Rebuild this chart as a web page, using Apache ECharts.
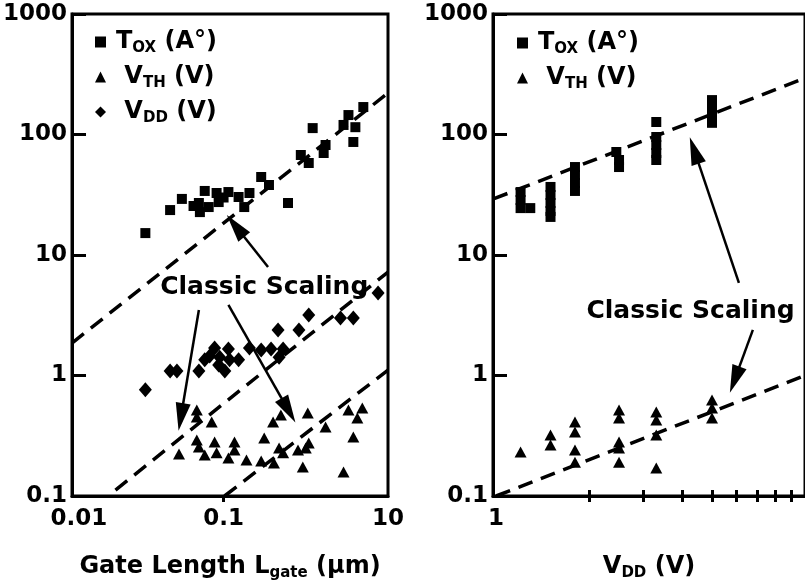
<!DOCTYPE html>
<html>
<head>
<meta charset="utf-8">
<script src="https://cdn.jsdelivr.net/npm/echarts@6/dist/echarts.min.js"></script>
<style>
html, body { margin: 0; padding: 0; background: #fff; }
#chart { width: 805px; height: 587px; }
</style>
</head>
<body>
<div id="chart"></div>
<script>
// left panel: [gate length (um), value]
let toxVsGate = [
    [0.0288, 15.2], [0.0427, 23.6], [0.0515, 29.2], [0.0741, 34.0], [0.0675, 27.0],
    [0.0686, 22.7], [0.0789, 25.0], [0.0895, 32.7], [0.0925, 27.5], [0.108, 33.3],
    [0.127, 30.3], [0.139, 25.0], [0.151, 32.7], [0.182, 44.4], [0.206, 38.1],
    [0.279, 27.0], [0.342, 67.6], [0.388, 58.0], [0.413, 113], [0.492, 70.2],
    [0.507, 81.8], [0.675, 120], [0.730, 145], [0.815, 115], [0.789, 86.7],
    [0.925, 169], [0.062, 25.5], [0.100, 30.0]
];
let vthVsGate = [
    [0.0653, 0.518], [0.0653, 0.453], [0.0828, 0.411], [0.0492, 0.223], [0.0653, 0.292],
    [0.0675, 0.255], [0.0741, 0.219], [0.0867, 0.281], [0.0895, 0.228], [0.108, 0.207],
    [0.119, 0.281], [0.119, 0.241], [0.144, 0.199], [0.182, 0.195], [0.191, 0.303],
    [0.223, 0.188], [0.220, 0.411], [0.249, 0.470], [0.242, 0.250], [0.258, 0.228],
    [0.327, 0.241], [0.353, 0.174], [0.382, 0.489], [0.388, 0.275], [0.370, 0.250],
    [0.507, 0.374], [0.675, 0.158], [0.730, 0.518], [0.789, 0.309], [0.841, 0.444],
    [0.910, 0.537]
];
let vddVsGate = [
    [0.0288, 0.76], [0.0427, 1.09], [0.0476, 1.09], [0.0675, 1.09], [0.0741, 1.35],
    [0.0802, 1.45], [0.0867, 1.69], [0.0925, 1.22], [0.094, 1.42], [0.102, 1.09],
    [0.108, 1.66], [0.110, 1.35], [0.127, 1.35], [0.151, 1.69], [0.182, 1.63],
    [0.213, 1.66], [0.242, 1.42], [0.258, 1.66], [0.238, 2.39], [0.332, 2.39],
    [0.388, 3.18], [0.643, 3.0], [0.789, 3.0], [1.17, 4.84]
];

// right panel: [VDD (V), value]
let toxVsVdd = [
    [1.2, 33.3], [1.2, 28.6], [1.2, 24.5], [1.29, 24.5],
    [1.5, 36.7], [1.5, 31.5], [1.5, 27.0], [1.5, 23.2], [1.5, 20.7],
    [1.8, 53.7], [1.8, 46.1], [1.8, 39.6], [1.8, 34.0],
    [2.45, 71.6], [2.5, 61.4], [2.5, 53.7],
    [3.3, 127], [3.3, 95.3], [3.3, 81.8], [3.3, 70.2], [3.3, 61.4],
    [5.0, 193], [5.0, 166], [5.0, 142], [5.0, 125]
];
let vthVsVdd = [
    [1.2, 0.232],
    [1.5, 0.321], [1.5, 0.265],
    [1.8, 0.411], [1.8, 0.340], [1.8, 0.241], [1.8, 0.191],
    [2.5, 0.518], [2.5, 0.444], [2.5, 0.281], [2.5, 0.250], [2.5, 0.191],
    [3.3, 0.498], [3.3, 0.427], [3.3, 0.321], [3.3, 0.171],
    [5.0, 0.626], [5.0, 0.537], [5.0, 0.444]
];

// classic scaling lines, two end points each
let toxFitGate = [[0.00896, 1.86], [1.37, 221]];
let vddFitGate = [[0.0179, 0.112], [1.37, 7.22]];
let vthFitGate = [[0.1016, 0.1], [1.37, 1.11]];
let toxFitVdd = [[0.98, 29.2], [10, 294]];
let vthFitVdd = [[1.0, 0.1], [10, 1.0]];

// arrows: [from, arrowhead centre]
let arrowsGate = [
    [[0.203, 7.95], [0.121, 17.4]],
    [[0.0675, 3.50], [0.0507, 0.453]],
    [[0.108, 3.85], [0.281, 0.513]]
];
let arrowsVdd = [
    [[6.11, 5.86], [4.38, 73.8]],
    [[6.78, 2.39], [5.92, 0.923]]
];
let noteGate = [0.191, 5.42];
let noteVdd = [4.26, 3.37];

// axes
let yTickLabels = ['0.1', '1', '10', '100', '1000'];
let gateMin = 0.00896;
let gateMax = 1.37;
let gateTickValues = [0.01, 0.1, gateMax];   // the figure prints "10" at the right edge
let gateTickLabels = ['0.01', '0.1', '10'];
let vddMin = 0.977;
let vddMax = 10;
let vddMinorTicks = [2, 3, 4, 5, 6, 7, 8, 9];
let vddTickValues = [1];
let vddTickLabels = ['1'];

const FONT = 'DejaVu Sans';
const ARROW_HEAD = 'path://M7,0L14,26L0,26Z';
const lg = p => [Math.log10(p[0]), Math.log10(p[1])];

let rich = {
    b: { fontFamily: FONT, fontWeight: 'bold', fontSize: 24, lineHeight: 28, color: '#000' },
    s: { fontFamily: FONT, fontWeight: 'bold', fontSize: 15, lineHeight: 14, verticalAlign: 'bottom', color: '#000' },
    p: { fontFamily: FONT, fontWeight: 'bold', fontSize: 24, lineHeight: 28, color: '#000', padding: [0, 0, 0, 5] }
};
let legendNames = {
    Tox: '{p|T}{s|OX}{b| (A°)}',
    Vth: '{p| V}{s|TH}{b| (V)}',
    Vdd: '{p| V}{s|DD}{b| (V)}'
};

function labelFor(values, labels) {
    return v => {
        let i = values.findIndex(t => Math.abs(Math.log10(t) - v) < 1e-6);
        return i < 0 ? '' : labels[i];
    };
}

let tickFont = { color: '#000', fontFamily: FONT, fontWeight: 'bold', fontSize: 23 };
let black3 = { color: '#000', width: 3 };

function yAxisFor(gridIndex) {
    return {
        type: 'value', gridIndex: gridIndex, min: -1, max: 3, interval: 1,
        axisLine: { show: true, onZero: false, lineStyle: black3 },
        axisTick: { inside: true, length: 14, lineStyle: black3 },
        axisLabel: Object.assign({ margin: 5, formatter: v => yTickLabels[Math.round(v) + 1] }, tickFont),
        splitLine: { show: false }
    };
}

function scatter(name, data, xi, yi, symbol, size) {
    return {
        type: 'scatter', name: name, xAxisIndex: xi, yAxisIndex: yi,
        symbol: symbol, symbolSize: size, z: 5, silent: true,
        itemStyle: { color: '#000', opacity: 1 },
        data: data.map(lg)
    };
}

function fitLine(name, data, xi, yi, arrows, note) {
    let s = {
        type: 'line', name: name, xAxisIndex: xi, yAxisIndex: yi,
        symbol: 'none', silent: true, z: 3,
        lineStyle: { color: '#000', width: 3.5, type: [15, 9] },
        data: data.map(lg)
    };
    if (arrows) {
        s.markLine = {
            silent: true, animation: false,
            symbol: ['none', ARROW_HEAD],
            symbolSize: 28,
            symbolKeepAspect: true,
            label: { show: false },
            lineStyle: { color: '#000', width: 2.5, type: 'solid' },
            itemStyle: { color: '#000' },
            data: arrows.map(a => [{ coord: lg(a[0]) }, { coord: lg(a[1]) }])
        };
    }
    if (note) {
        s.markPoint = {
            silent: true, animation: false,
            symbol: 'rect', symbolSize: 1,
            itemStyle: { color: 'transparent' },
            label: { show: true, position: 'inside', formatter: 'Classic Scaling',
                color: '#000', fontFamily: FONT, fontWeight: 'bold', fontSize: 25 },
            data: [{ coord: lg(note) }]
        };
    }
    return s;
}

let chart = echarts.init(document.getElementById('chart'));

let option = {
    animation: false,
    backgroundColor: '#fff',
    grid: [
        { left: 69, top: 14, right: 417, bottom: 91, show: true, borderColor: '#000', borderWidth: 3 },
        { left: 493, top: 14, right: -2, bottom: 91, show: true, borderColor: '#000', borderWidth: 3 }
    ],
    legend: [
        {
            data: ['Tox', 'Vth', 'Vdd'], orient: 'vertical', left: 95, top: 30, padding: 0,
            itemWidth: 11, itemHeight: 11, itemGap: 9, selectedMode: false,
            formatter: n => legendNames[n], textStyle: { rich: rich }
        },
        {
            data: ['Tox', 'Vth'], orient: 'vertical', left: 517, top: 31, padding: 0,
            itemWidth: 11, itemHeight: 11, itemGap: 9, selectedMode: false,
            formatter: n => legendNames[n], textStyle: { rich: rich }
        }
    ],
    xAxis: [
        {
            type: 'value', gridIndex: 0, min: Math.log10(gateMin), max: Math.log10(gateMax),
            axisLine: { show: true, onZero: false, lineStyle: black3 },
            axisTick: { customValues: [Math.log10(0.1)], length: 6, lineStyle: black3 },
            axisLabel: Object.assign({ margin: 12, customValues: gateTickValues.map(Math.log10),
                formatter: labelFor(gateTickValues, gateTickLabels) }, tickFont),
            splitLine: { show: false },
            name: '{b|Gate Length L}{s|gate}{b| (µm)}', nameLocation: 'middle', nameGap: 57,
            nameTextStyle: { rich: rich }
        },
        {
            type: 'value', gridIndex: 1, position: 'bottom', min: Math.log10(vddMin), max: Math.log10(vddMax),
            axisLine: { show: true, onZero: false, lineStyle: black3 },
            axisTick: { customValues: vddMinorTicks.map(Math.log10), length: 6, lineStyle: black3 },
            axisLabel: Object.assign({ margin: 12, customValues: vddTickValues.map(Math.log10),
                formatter: labelFor(vddTickValues, vddTickLabels) }, tickFont),
            splitLine: { show: false },
            name: '{b|V}{s|DD}{b| (V)}', nameLocation: 'middle', nameGap: 57,
            nameTextStyle: { rich: rich }
        },
        {
            type: 'value', gridIndex: 1, position: 'bottom', min: Math.log10(vddMin), max: Math.log10(vddMax),
            axisLine: { show: false, onZero: false },
            axisTick: { inside: true, customValues: vddMinorTicks.map(Math.log10), length: 6, lineStyle: black3 },
            axisLabel: { show: false },
            splitLine: { show: false }
        }
    ],
    yAxis: [yAxisFor(0), yAxisFor(1)],
    series: [
        fitLine('toxFitGate', toxFitGate, 0, 0, arrowsGate, noteGate),
        fitLine('vddFitGate', vddFitGate, 0, 0),
        fitLine('vthFitGate', vthFitGate, 0, 0),
        fitLine('toxFitVdd', toxFitVdd, 1, 1, arrowsVdd, noteVdd),
        fitLine('vthFitVdd', vthFitVdd, 1, 1),
        scatter('Tox', toxVsGate, 0, 0, 'rect', 10),
        scatter('Vth', vthVsGate, 0, 0, 'triangle', [12, 11]),
        scatter('Vdd', vddVsGate, 0, 0, 'diamond', [13, 15]),
        scatter('Tox', toxVsVdd, 1, 1, 'rect', 10),
        scatter('Vth', vthVsVdd, 1, 1, 'triangle', [12, 11])
    ]
};

chart.setOption(option);
</script>
</body>
</html>
